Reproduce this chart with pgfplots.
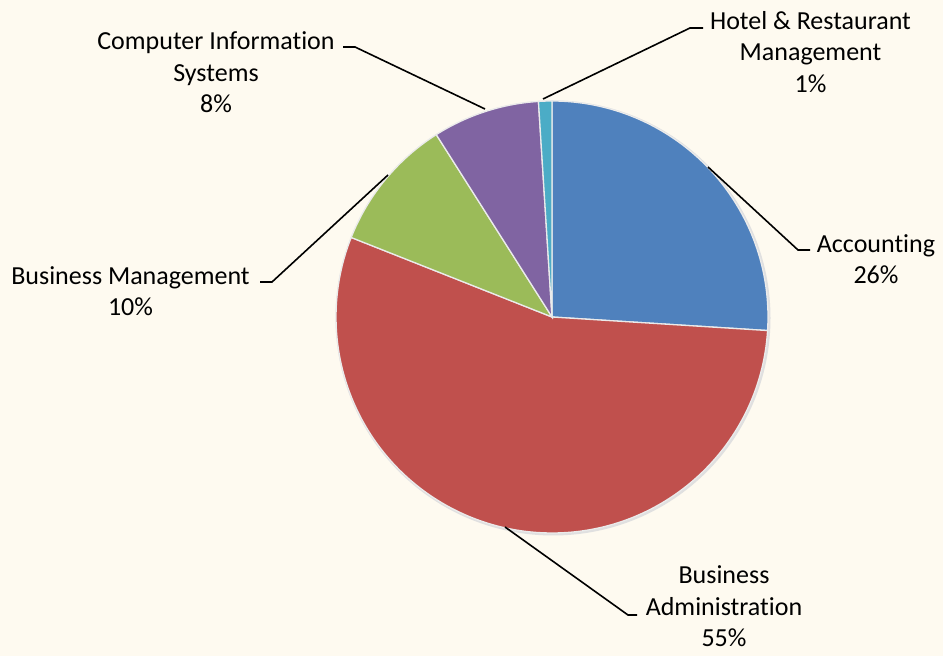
\documentclass[border=0pt]{standalone}
\usepackage{pgfplots}
\pgfplotsset{compat=1.18}
\usepackage{fontspec}
\setmainfont{Carlito}[Ligatures={NoCommon}]

\definecolor{bgcream}{RGB}{254,250,240}
\definecolor{accblue}{HTML}{4F81BD}
\definecolor{bared}{HTML}{C0504D}
\definecolor{bmgreen}{HTML}{9BBB59}
\definecolor{cispurple}{HTML}{8064A2}
\definecolor{hrteal}{HTML}{4BACC6}

% centre and radius of the pie, in picture units (1 unit = 1bp)
\newcommand{\cx}{552}
\newcommand{\cy}{339}
% #1 = share before this slice (%), #2 = share of the slice (%), #3 = colour
\newcommand{\slice}[3]{%
  \fill[#3, draw=white!92!black, line width=1.3bp]
    (axis cs:\cx,\cy) -- ++({90-3.6*#1}:216bp)
    arc[start angle={90-3.6*#1}, delta angle={-3.6*#2}, radius=216bp] -- cycle;}
\newcommand{\lblfont}{\fontsize{26bp}{31.7bp}\selectfont}

\begin{document}
\begin{tikzpicture}[lbl/.style={anchor=base, align=center, font=\lblfont, inner sep=0pt}]
\begin{axis}[
  name=ax,
  width=943bp, height=656bp, scale only axis,
  xmin=0, xmax=943, ymin=0, ymax=656,
  hide axis, clip=false,
]
\fill[bgcream] (axis cs:0,0) rectangle (axis cs:943,656);
% soft rim round the pie
\draw[black!12, line width=3bp] (axis cs:553,338) circle[radius=216bp];

\slice{0}{26}{accblue}
\slice{26}{55}{bared}
\slice{81}{10}{bmgreen}
\slice{91}{8}{cispurple}
\slice{99}{1}{hrteal}

% leader lines
\draw[line width=1.6bp] (axis cs:708,489) -- (axis cs:798,406) -- (axis cs:810,406);
\draw[line width=1.6bp] (axis cs:505,129) -- (axis cs:628,41) -- (axis cs:637,41);
\draw[line width=1.6bp] (axis cs:388,481) -- (axis cs:272,374) -- (axis cs:260,374);
\draw[line width=1.6bp] (axis cs:485,547) -- (axis cs:355,609) -- (axis cs:343,609);
\draw[line width=1.6bp] (axis cs:543,557) -- (axis cs:690,628) -- (axis cs:703,628);

% labels (base = baseline of the last line)
\node[lbl] at (axis cs:876,372) {Accounting\\26\%};
\node[lbl] at (axis cs:724,9.3) {Business\\Administration\\55\%};
\node[lbl] at (axis cs:130.5,340) {Business Management\\10\%};
\node[lbl] at (axis cs:216,543) {Computer Information\\Systems\\8\%};
\node[lbl] at (axis cs:810.5,563.3) {Hotel \& Restaurant\\Management\\1\%};
\end{axis}
\pgfresetboundingbox
\path (ax.south west) rectangle (ax.north east);
\end{tikzpicture}
\end{document}
